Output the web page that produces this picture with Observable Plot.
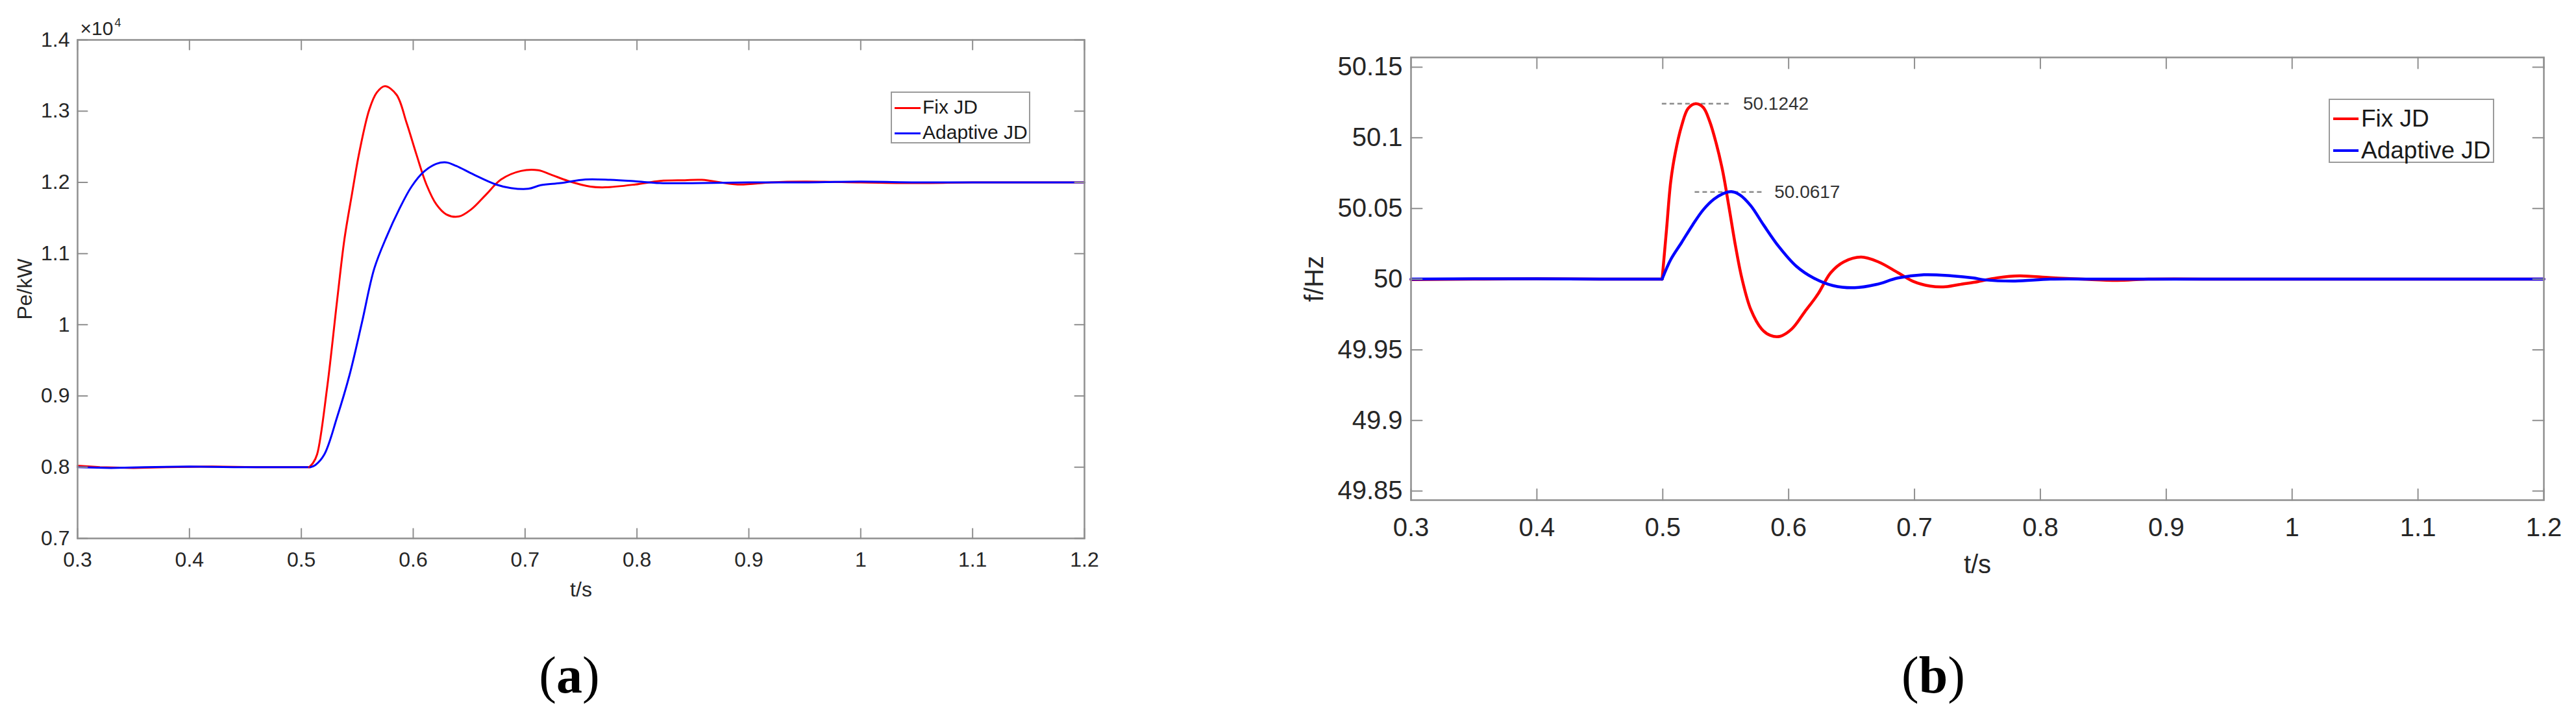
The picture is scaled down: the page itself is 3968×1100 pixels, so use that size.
<!DOCTYPE html>
<html><head><meta charset="utf-8">
<script src="https://cdn.jsdelivr.net/npm/d3@7"></script>
<script src="https://cdn.jsdelivr.net/npm/@observablehq/plot@0.6"></script>
<style>
body{margin:0;background:#fff;}
#root{position:relative;width:3968px;height:1100px;overflow:hidden;background:#fff;font-family:"Liberation Sans",Arial,sans-serif;}
.panel{position:absolute;top:0;}
.legend{position:absolute;background:#fff;border:2px solid #9a9a9a;box-sizing:border-box;}
.legend .row{position:absolute;left:0;height:0;white-space:nowrap;color:#1a1a1a;}
.legend .sw{position:absolute;top:0;}
.legend .lb{position:absolute;top:0;transform:translateY(-52%);line-height:1;}
.cap{position:absolute;font-family:"Liberation Serif","Times New Roman",serif;color:#000;transform:translate(-50%,-50%);line-height:1;white-space:nowrap;}
</style></head><body><div id="root"></div><script>
// ---------- data ----------
const seriesNames = ["Fix JD", "Adaptive JD"];
const seriesColors = ["#ff0000", "#0000ff"];
const xTicks = [0.3, 0.4, 0.5, 0.6, 0.7, 0.8, 0.9, 1.0, 1.1, 1.2];
const peTicks = [0.7, 0.8, 0.9, 1.0, 1.1, 1.2, 1.3, 1.4];
const fTicks = [49.85, 49.9, 49.95, 50, 50.05, 50.1, 50.15];

// (a) Pe/kW (x10^4)
const peFixT = [0.3, 0.32, 0.35, 0.38, 0.42, 0.46, 0.5, 0.507, 0.5105, 0.5141, 0.523, 0.5319, 0.5385, 0.5452, 0.5518, 0.5607, 0.5674, 0.5747, 0.5851, 0.594, 0.6029, 0.6118, 0.6207, 0.6296, 0.6407, 0.6518, 0.6652, 0.6785, 0.6963, 0.7118, 0.7229, 0.7384, 0.7584, 0.7717, 0.7984, 0.8206, 0.8428, 0.858, 0.89, 0.92, 0.95, 1.0, 1.05, 1.1, 1.15, 1.2];
const peFixV = [0.802, 0.800, 0.799, 0.800, 0.801, 0.800, 0.800, 0.800, 0.806, 0.818, 0.911, 1.033, 1.120, 1.183, 1.242, 1.302, 1.326, 1.335, 1.323, 1.284, 1.239, 1.197, 1.169, 1.155, 1.152, 1.162, 1.183, 1.204, 1.216, 1.217, 1.211, 1.202, 1.194, 1.193, 1.197, 1.202, 1.203, 1.2035, 1.197, 1.200, 1.201, 1.200, 1.199, 1.200, 1.200, 1.200];
const peAdaT = [0.3, 0.33, 0.36, 0.4, 0.44, 0.48, 0.505, 0.508, 0.5125, 0.5206, 0.5319, 0.543, 0.554, 0.5652, 0.5763, 0.5874, 0.5985, 0.6096, 0.6207, 0.6296, 0.6385, 0.654, 0.674, 0.6873, 0.703, 0.714, 0.7318, 0.754, 0.7762, 0.7984, 0.8206, 0.858, 0.9, 0.95, 1.0, 1.05, 1.1, 1.15, 1.2];
const peAdaV = [0.800, 0.799, 0.800, 0.801, 0.800, 0.800, 0.800, 0.800, 0.803, 0.818, 0.870, 0.929, 1.002, 1.079, 1.124, 1.162, 1.194, 1.215, 1.226, 1.228, 1.223, 1.211, 1.197, 1.192, 1.191, 1.196, 1.199, 1.204, 1.2035, 1.2015, 1.199, 1.199, 1.200, 1.200, 1.201, 1.200, 1.200, 1.200, 1.200];
const peKink = [0.507, 0.508];

// (b) f/Hz
const fFixT = [0.3, 0.35, 0.4, 0.45, 0.4995, 0.503, 0.5063, 0.5098, 0.515, 0.5201, 0.5261, 0.5321, 0.5373, 0.5424, 0.5476, 0.5527, 0.5579, 0.563, 0.5699, 0.5785, 0.5854, 0.5931, 0.6026, 0.6129, 0.6232, 0.6335, 0.6438, 0.6576, 0.6713, 0.6868, 0.6988, 0.7125, 0.7246, 0.7383, 0.7469, 0.766, 0.7835, 0.808, 0.833, 0.861, 0.886, 0.95, 1.0, 1.1, 1.2];
const fFixV = [49.9997, 50.0, 50.0002, 50.0, 50.0, 50.0352, 50.0688, 50.0887, 50.1086, 50.1208, 50.1242, 50.1216, 50.1116, 50.0963, 50.0765, 50.0505, 50.0229, 50.0, 49.9786, 49.9648, 49.9602, 49.9595, 49.9648, 49.977, 49.9893, 50.0046, 50.0122, 50.0156, 50.0122, 50.0046, 49.9985, 49.9951, 49.9946, 49.9966, 49.9977, 50.001, 50.0023, 50.001, 50.0, 49.9991, 50.0, 50.0, 50.0, 50.0, 50.0];
const fAdaT = [0.3, 0.35, 0.4, 0.45, 0.4995, 0.5063, 0.515, 0.5236, 0.5321, 0.5407, 0.5476, 0.5545, 0.5613, 0.5699, 0.5802, 0.5923, 0.606, 0.6198, 0.6352, 0.6524, 0.6696, 0.6868, 0.7074, 0.7297, 0.7469, 0.7557, 0.78, 0.808, 0.85, 0.9, 1.0, 1.1, 1.2];
const fAdaV = [50.0, 50.0003, 50.0002, 50.0, 50.0, 50.0138, 50.026, 50.0382, 50.049, 50.0566, 50.0604, 50.0619, 50.0596, 50.052, 50.0382, 50.0229, 50.0092, 50.0008, 49.9954, 49.9939, 49.9962, 50.0008, 50.0031, 50.0023, 50.0008, 49.9995, 49.9986, 50.0, 50.0, 50.0, 50.0, 50.0, 50.0];
const fKink = [0.4995, 0.4995];

// peak annotations (b)
const peakF = [50.1242, 50.0617];
const peakT1 = [0.4995, 0.5256];
const peakT2 = [0.5545, 0.5794];
const peakLabels = ["50.1242", "50.0617"];

// ---------- helpers ----------
// split each series at its step instant: flat part (before) and transient (after)
function rowsSplit(T, V, s, kink) {
  const out = [];
  T.forEach((t, i) => {
    if (t <= kink) out.push({t, v: V[i], s, part: "pre", z: s + "-pre"});
    if (t >= kink) out.push({t, v: V[i], s, part: "post", z: s + "-post"});
  });
  return out;
}
const fmt = d => String(+d.toFixed(3));
const tickShape = {draw(ctx, l) { ctx.moveTo(0, 0); ctx.lineTo(0, -l); }};
function inwardTicks(xt, yt, len, stroke, sw) {
  const o = {length: len, shape: tickShape, anchor: "start", stroke, strokeWidth: sw};
  return [
    Plot.vector(xt, {x: d => d, frameAnchor: "bottom", rotate: 0, ...o}),
    Plot.vector(xt, {x: d => d, frameAnchor: "top", rotate: 180, ...o}),
    Plot.vector(yt, {y: d => d, frameAnchor: "left", rotate: 90, ...o}),
    Plot.vector(yt, {y: d => d, frameAnchor: "right", rotate: -90, ...o})
  ];
}
function seriesLines(data, sw) {
  return [
    Plot.line(data.filter(d => d.part === "pre"), {x: "t", y: "v", z: "z", stroke: "s", strokeWidth: sw, curve: "linear"}),
    Plot.line(data.filter(d => d.part === "post"), {x: "t", y: "v", z: "z", stroke: "s", strokeWidth: sw, curve: "catmull-rom"})
  ];
}
const axisGray = "#8f8f8f";
const textCol = "#262626";

const root = document.getElementById("root");

// ---------- panel (a) ----------
const dataA = [...rowsSplit(peFixT, peFixV, seriesNames[0], peKink[0]), ...rowsSplit(peAdaT, peAdaV, seriesNames[1], peKink[1])];
const plotA = Plot.plot({
  width: 1760, height: 960,
  marginLeft: 119, marginRight: 90, marginTop: 61, marginBottom: 131,
  x: {domain: [0.3, 1.2]},
  y: {domain: [0.7, 1.4]},
  color: {domain: seriesNames, range: seriesColors},
  style: {fontFamily: "'Liberation Sans', Arial, sans-serif", fontSize: "32px", color: textCol, background: "transparent", overflow: "visible"},
  marks: [
    ...seriesLines(dataA, 3),
    Plot.frame({stroke: axisGray, strokeWidth: 2.5}),
    ...inwardTicks(xTicks, peTicks, 15, axisGray, 2),
    Plot.axisX(xTicks, {anchor: "bottom", tickSize: 0, tickPadding: 21, tickFormat: fmt, fontSize: 32, label: null, fill: textCol}),
    Plot.axisY(peTicks, {anchor: "left", tickSize: 0, tickPadding: 12, tickFormat: fmt, fontSize: 32, label: null, fill: textCol}),
    Plot.text(["t/s"], {frameAnchor: "bottom", dy: 79, fontSize: 32, textAnchor: "middle", lineAnchor: "middle", fill: textCol}),
    Plot.text(["Pe/kW"], {frameAnchor: "left", dx: -81, rotate: -90, fontSize: 32, textAnchor: "middle", lineAnchor: "middle", fill: textCol}),
    Plot.text(["×10"], {frameAnchor: "top-left", dx: 4, dy: -8, fontSize: 30, textAnchor: "start", lineAnchor: "bottom", fill: textCol}),
    Plot.text(["4"], {frameAnchor: "top-left", dx: 57, dy: -21, fontSize: 18, textAnchor: "start", lineAnchor: "bottom", fill: textCol})
  ]
});
const pa = document.createElement("div");
pa.className = "panel"; pa.style.left = "0px"; pa.style.width = "1760px";
pa.appendChild(plotA); root.appendChild(pa);

// ---------- panel (b) ----------
const dataB = [...rowsSplit(fFixT, fFixV, seriesNames[0], fKink[0]), ...rowsSplit(fAdaT, fAdaV, seriesNames[1], fKink[1])];
const peaks = peakF.map((f, i) => ({f, t1: peakT1[i], t2: peakT2[i], label: peakLabels[i]}));
const plotB = Plot.plot({
  width: 2068, height: 960,
  marginLeft: 273, marginRight: 50, marginTop: 88, marginBottom: 190,
  x: {domain: [0.3, 1.2]},
  y: {domain: [49.8436, 50.1569]},
  color: {domain: seriesNames, range: seriesColors},
  style: {fontFamily: "'Liberation Sans', Arial, sans-serif", fontSize: "40px", color: textCol, background: "transparent", overflow: "visible"},
  marks: [
    Plot.ruleY(peaks, {y: "f", x1: "t1", x2: "t2", stroke: "#8a8a8a", strokeWidth: 2.5, strokeDasharray: "7,5"}),
    Plot.text(peaks, {x: "t2", y: "f", text: "label", dx: 18, textAnchor: "start", lineAnchor: "middle", fontSize: 28, fill: "#333"}),
    ...seriesLines(dataB, 4.5),
    Plot.frame({stroke: axisGray, strokeWidth: 2.5}),
    ...inwardTicks(xTicks, fTicks, 17, axisGray, 2),
    Plot.axisX(xTicks, {anchor: "bottom", tickSize: 0, tickPadding: 27, tickFormat: fmt, fontSize: 40, label: null, fill: textCol}),
    Plot.axisY(fTicks, {anchor: "left", tickSize: 0, tickPadding: 13, tickFormat: fmt, fontSize: 40, label: null, fill: textCol}),
    Plot.text(["t/s"], {frameAnchor: "bottom", dy: 100, fontSize: 40, textAnchor: "middle", lineAnchor: "middle", fill: textCol}),
    Plot.text(["f/Hz"], {frameAnchor: "left", dx: -148, rotate: -90, fontSize: 40, textAnchor: "middle", lineAnchor: "middle", fill: textCol})
  ]
});
const pb = document.createElement("div");
pb.className = "panel"; pb.style.left = "1900px"; pb.style.width = "2068px";
pb.appendChild(plotB); root.appendChild(pb);

// ---------- legends ----------
function legend(left, top, w, h, rowY, swX, swLen, swW, txtX, fs) {
  const box = document.createElement("div");
  box.className = "legend";
  Object.assign(box.style, {left: left + "px", top: top + "px", width: w + "px", height: h + "px"});
  seriesNames.forEach((name, i) => {
    const r = document.createElement("div");
    r.className = "row"; r.style.top = rowY[i] + "px"; r.style.width = w + "px";
    const sw = document.createElement("div");
    sw.className = "sw";
    Object.assign(sw.style, {left: swX + "px", width: swLen + "px", height: "0px", borderTop: swW + "px solid " + seriesColors[i], marginTop: (-swW / 2) + "px"});
    const lb = document.createElement("div");
    lb.className = "lb"; lb.textContent = name;
    Object.assign(lb.style, {left: txtX + "px", fontSize: fs + "px"});
    r.appendChild(sw); r.appendChild(lb); box.appendChild(r);
  });
  root.appendChild(box);
}
legend(1372, 141, 215, 80, [23, 62], 4, 40, 3, 47, 30);
legend(3587, 152, 255, 99, [29, 78], 5, 39, 4.5, 48, 37);

// ---------- captions ----------
function caption(x, y, letter) {
  const c = document.createElement("div");
  c.className = "cap";
  c.style.left = x + "px"; c.style.top = y + "px"; c.style.fontSize = "80px";
  c.innerHTML = "(<b>" + letter + "</b>)";
  root.appendChild(c);
}
caption(877, 1040, "a");
caption(2978, 1040, "b");
</script></body></html>
